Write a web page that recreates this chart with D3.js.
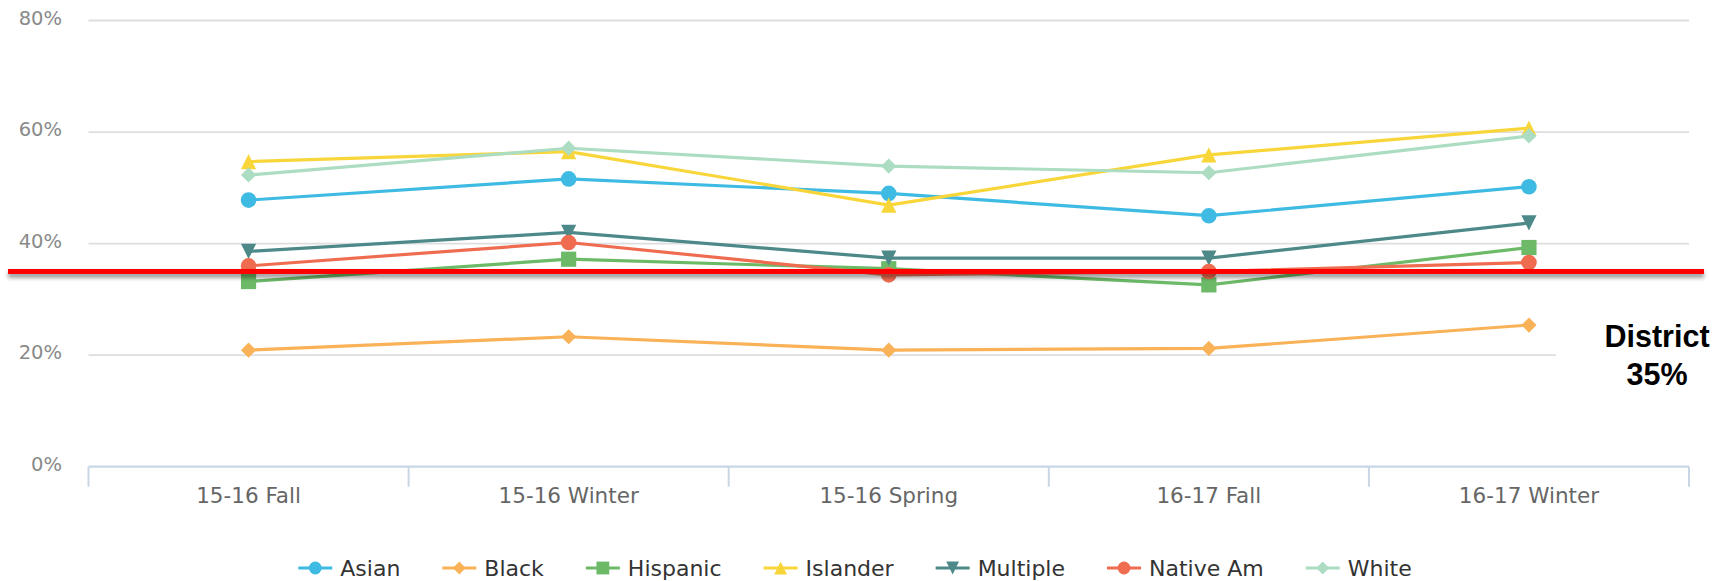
<!DOCTYPE html>
<html>
<head>
<meta charset="utf-8">
<script src="https://cdn.jsdelivr.net/npm/d3@7"></script>
<style>
  html, body { margin: 0; padding: 0; background: #fff; }
  svg { display: block; }
</style>
</head>
<body>
<svg id="chart" width="1733" height="581"></svg>
<script>
// Terms along the x axis
const categories = ["15-16 Fall", "15-16 Winter", "15-16 Spring", "16-17 Fall", "16-17 Winter"];

// Percent of students per group, one value per term
const asian     = [47.8, 51.6, 49.0, 45.0, 50.2];
const black     = [20.9, 23.3, 20.9, 21.2, 25.4];
const hispanic  = [33.2, 37.2, 35.5, 32.6, 39.3];
const islander  = [54.7, 56.5, 46.9, 55.9, 60.7];
const multiple  = [38.6, 42.0, 37.4, 37.4, 43.7];
const nativeAm  = [36.0, 40.2, 34.4, 35.0, 36.6];
const white     = [52.3, 57.1, 53.9, 52.7, 59.3];

const seriesNames = ["Asian", "Black", "Hispanic", "Islander", "Multiple", "Native Am", "White"];
const seriesValues = [asian, black, hispanic, islander, multiple, nativeAm, white];
const seriesColors = ["#3fbbe3", "#f9b257", "#6cba68", "#f8d63a", "#4d8988", "#ef6c50", "#acdcc2"];
const seriesSymbols = ["circle", "diamond", "square", "triangle", "triangle-down", "circle", "diamond"];

const yTicks = [0, 20, 40, 60, 80];
const districtValue = 35;
const districtLabel = ["District", "35%"];

const svg = d3.select("#chart");

const x = d3.scaleBand().domain(categories).range([88.5, 1689]);
const y = d3.scaleLinear().domain([0, 80]).range([466.7, 20.5]);

// marker outline paths (centre cx, cy, radius r)
function markerPath(type, cx, cy, r) {
  const p = d3.path();
  if (type === "circle") {
    p.arc(cx, cy, r, 0, 2 * Math.PI);
  } else if (type === "square") {
    p.rect(cx - r, cy - r, 2 * r, 2 * r);
  } else if (type === "triangle") {
    p.moveTo(cx, cy - r); p.lineTo(cx + r, cy + r); p.lineTo(cx - r, cy + r); p.closePath();
  } else if (type === "triangle-down") {
    p.moveTo(cx - r, cy - r); p.lineTo(cx + r, cy - r); p.lineTo(cx, cy + r); p.closePath();
  } else if (type === "diamond") {
    p.moveTo(cx, cy - r); p.lineTo(cx + r, cy); p.lineTo(cx, cy + r); p.lineTo(cx - r, cy); p.closePath();
  }
  return p.toString();
}

const defs = svg.append("defs");
const shadow = defs.append("filter").attr("id", "lineShadow")
  .attr("filterUnits", "userSpaceOnUse")
  .attr("x", 0).attr("y", 240).attr("width", 1733).attr("height", 70);
shadow.append("feDropShadow").attr("dx", 0).attr("dy", 3.5).attr("stdDeviation", 2)
  .attr("flood-color", "#000").attr("flood-opacity", 0.45);

// horizontal grid lines
const gridVals = yTicks.filter(v => v > 0);
svg.append("g").selectAll("line").data(gridVals).join("line")
  .attr("x1", x.range()[0]).attr("x2", x.range()[1])
  .attr("y1", d => y(d)).attr("y2", d => y(d))
  .attr("stroke", "#dedede").attr("stroke-width", 1.8);

// y axis labels
const yAxis = d3.axisLeft(y).tickValues(yTicks).tickFormat(d => d + "%").tickSize(0).tickPadding(0);
const yG = svg.append("g").attr("transform", "translate(62,-3)").call(yAxis);
yG.select(".domain").remove();
yG.selectAll("text")
  .attr("font-family", "DejaVu Sans, sans-serif").attr("font-size", 19.5)
  .attr("fill", "#8a8a8a").attr("dy", "0.35em");

// x axis with ticks at category boundaries
const xAxisG = svg.append("g").attr("transform", `translate(0,${y(0)})`);
xAxisG.append("line")
  .attr("x1", x.range()[0]).attr("x2", x.range()[1])
  .attr("stroke", "#c9d6e5").attr("stroke-width", 2.2);
const bounds = categories.map(c => x(c)).concat([x.range()[1]]);
xAxisG.selectAll("line.tick").data(bounds).join("line").attr("class", "tick")
  .attr("x1", d => d).attr("x2", d => d).attr("y1", 0).attr("y2", 20)
  .attr("stroke", "#c9d6e5").attr("stroke-width", 2);
xAxisG.selectAll("text").data(categories).join("text")
  .attr("x", d => x(d) + x.bandwidth() / 2).attr("y", 36)
  .attr("text-anchor", "middle")
  .attr("font-family", "DejaVu Sans, sans-serif").attr("font-size", 21.5)
  .attr("fill", "#666").text(d => d);

// series lines and markers
const line = d3.line()
  .x((d, i) => x(categories[i]) + x.bandwidth() / 2)
  .y(d => y(d));

const seriesG = svg.append("g");
seriesValues.forEach((vals, si) => {
  const g = seriesG.append("g");
  g.append("path").attr("d", line(vals))
    .attr("fill", "none").attr("stroke", seriesColors[si])
    .attr("stroke-width", 3.2).attr("stroke-linejoin", "round");
  g.selectAll("path.marker").data(vals).join("path").attr("class", "marker")
    .attr("d", (d, i) => markerPath(seriesSymbols[si], x(categories[i]) + x.bandwidth() / 2, y(d),
      seriesSymbols[si] === "circle" ? 7.8 : 7.6))
    .attr("fill", seriesColors[si]);
});

// white panel behind the district label
svg.append("rect").attr("x", 1556).attr("y", 292).attr("width", 177).attr("height", 110).attr("fill", "#fff");

// district reference line
svg.append("rect")
  .attr("x", 8).attr("width", 1696)
  .attr("y", y(districtValue) - 2.5).attr("height", 5)
  .attr("fill", "#ff0000")
  .attr("filter", "url(#lineShadow)");

svg.append("g").selectAll("text").data(districtLabel).join("text")
  .attr("x", 1657).attr("y", (d, i) => 346.5 + i * 38.5)
  .attr("text-anchor", "middle")
  .attr("font-family", "Liberation Sans, Arial, sans-serif").attr("font-weight", "bold")
  .attr("font-size", 30.5).attr("fill", "#000").text(d => d);

// legend
const legend = svg.append("g").attr("transform", "translate(0,568)");
const symW = 34, gap = 8, itemGap = 42;
const items = legend.selectAll("g").data(seriesNames).join("g");
items.append("line").attr("x1", 0).attr("x2", symW).attr("y1", 0).attr("y2", 0)
  .attr("stroke", (d, i) => seriesColors[i]).attr("stroke-width", 3.2);
items.append("path").attr("d", (d, i) => markerPath(seriesSymbols[i], symW / 2, 0, 6.4))
  .attr("fill", (d, i) => seriesColors[i]);
items.append("text").attr("x", symW + gap).attr("y", 0).attr("dy", "0.35em")
  .attr("font-family", "DejaVu Sans, sans-serif").attr("font-size", 22)
  .attr("fill", "#333").text(d => d);
let cursor = 0;
const offsets = [];
items.each(function () {
  offsets.push(cursor);
  const w = symW + gap + d3.select(this).select("text").node().getComputedTextLength();
  cursor += w + itemGap;
});
const total = cursor - itemGap;
const startX = 855 - total / 2;
items.attr("transform", (d, i) => `translate(${startX + offsets[i]},0)`);
</script>
</body>
</html>
